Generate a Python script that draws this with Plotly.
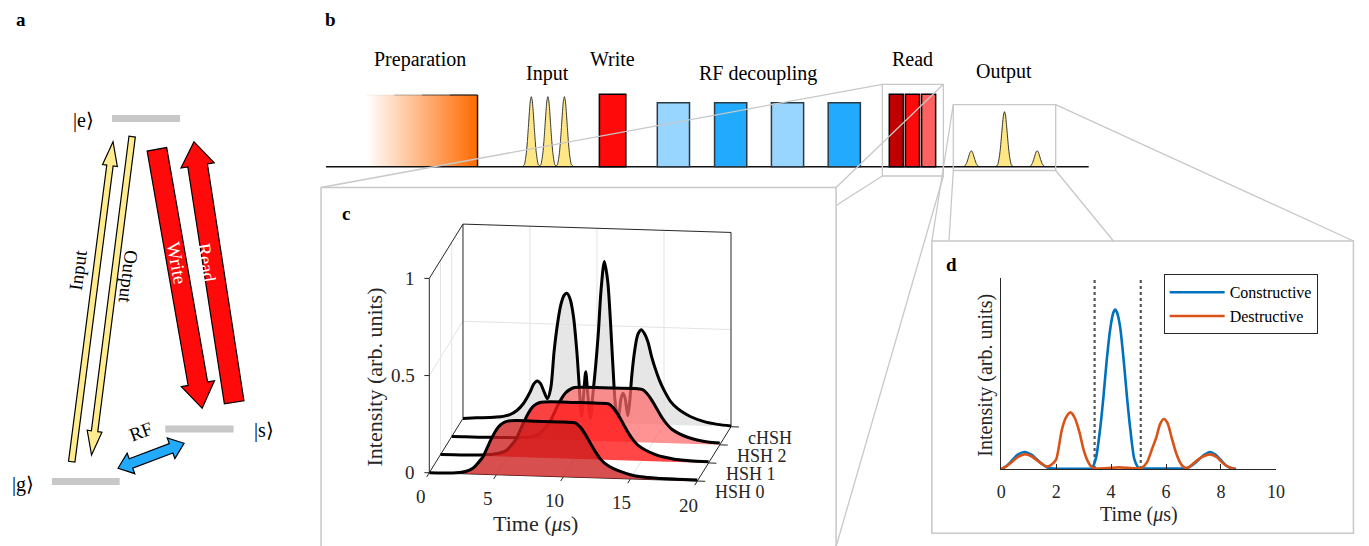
import math
import plotly.graph_objects as go

W, H = 1369, 546
OFF = 8  # the page body adds an 8 px margin; coordinates below are page pixels
FONT = "Liberation Serif, Times New Roman, serif"
INK = "#262626"
FRAME = "#C8C8C8"

# ======================= DATA =======================
# ---- panel c : read-out pulses (time in us, intensity in arb. units)
c_series = ["HSH 0", "HSH 1", "HSH 2", "cHSH"]
t_hsh0 = [0, 1, 2, 2.7, 3.25, 3.6, 4.0, 4.3, 4.6, 4.9, 5.2, 5.5, 5.85, 6.5, 8, 10, 10.9, 11.25,
          11.6, 12.0, 12.4, 12.75, 13.1, 13.7, 14.3, 15, 15.8, 17, 18.5, 20]
z_hsh0 = [0, 0.001, 0.004, 0.012, 0.03, 0.055, 0.09, 0.135, 0.18, 0.22, 0.25, 0.268, 0.278, 0.282,
          0.282, 0.282, 0.28, 0.26, 0.227, 0.18, 0.134, 0.1, 0.076, 0.052, 0.036, 0.022, 0.013,
          0.008, 0.006, 0.005]
t_hsh1 = [0, 1, 2, 3, 3.65, 4.35, 4.9, 5.25, 5.65, 5.95, 6.25, 6.55, 6.85, 7.15, 7.5, 8.2, 10,
          11.7, 12.55, 12.9, 13.25, 13.65, 14.05, 14.4, 14.75, 15.35, 15.95, 16.65, 17.45, 18.6, 20]
z_hsh1 = [0, 0.001, 0.002, 0.004, 0.008, 0.016, 0.031, 0.057, 0.093, 0.139, 0.185, 0.227, 0.258,
          0.276, 0.286, 0.29, 0.29, 0.29, 0.288, 0.268, 0.234, 0.186, 0.138, 0.104, 0.079, 0.054,
          0.037, 0.023, 0.014, 0.008, 0.006]
t_hsh2 = [0, 1, 2, 3, 4, 5.3, 6.0, 6.55, 6.9, 7.3, 7.6, 7.9, 8.2, 8.5, 8.8, 9.15, 10, 12, 14.2,
          14.55, 14.9, 15.3, 15.7, 16.05, 16.4, 17.0, 17.6, 18.3, 19.1, 20]
z_hsh2 = [0, 0.001, 0.001, 0.002, 0.003, 0.006, 0.012, 0.03, 0.054, 0.088, 0.131, 0.175, 0.214,
          0.243, 0.26, 0.272, 0.275, 0.275, 0.273, 0.254, 0.222, 0.176, 0.13, 0.098, 0.074, 0.05,
          0.034, 0.021, 0.013, 0.009]
t_chsh = [0, 1, 2, 2.5, 3, 3.5, 4, 4.5, 5, 5.3, 5.55, 5.8, 6.05, 6.3, 6.55, 6.8, 7.05, 7.3, 7.55,
          7.78, 8.0, 8.25, 8.5, 8.68, 8.85, 9.0, 9.16, 9.32, 9.5, 9.7, 9.9, 10.1, 10.3, 10.55, 10.8,
          11.0, 11.2, 11.4, 11.6, 11.8, 11.95, 12.1, 12.3, 12.45, 12.6, 12.82, 13.05, 13.3, 13.55,
          13.8, 14.05, 14.3, 14.65, 15.0, 15.5, 16, 16.5, 17, 18, 19, 20]
z_chsh = [0, 0.005, 0.009, 0.012, 0.017, 0.027, 0.048, 0.085, 0.145, 0.19, 0.205, 0.19, 0.15,
          0.115, 0.17, 0.36, 0.5, 0.6, 0.65, 0.66, 0.63, 0.54, 0.36, 0.18, 0.03, 0.14, 0.26, 0.14,
          0.02, 0.15, 0.29, 0.46, 0.68, 0.83, 0.73, 0.53, 0.28, 0.08, 0.03, 0.13, 0.155, 0.13, 0.04,
          0.12, 0.25, 0.38, 0.46, 0.485, 0.465, 0.424, 0.355, 0.297, 0.23, 0.178, 0.12, 0.086,
          0.063, 0.045, 0.022, 0.01, 0.004]
c_time_ticks = [0, 5, 10, 15, 20]
c_int_ticks = [0, 0.5, 1]
c_int_ticklabels = ["0", "0.5", "1"]

# ---- panel d : constructive / destructive interference (time in us)
d_t_con = [0, 0.2, 0.4, 0.6, 0.85, 1.1, 1.3, 1.5, 1.7, 2.0, 2.5, 3.0, 3.3, 3.45, 3.6, 3.72, 3.84,
           3.97, 4.08, 4.15, 4.22, 4.33, 4.46, 4.58, 4.7, 4.85, 5.0, 5.2, 5.5, 6.0, 6.5, 6.8, 7.0,
           7.2, 7.4, 7.6, 7.8, 8.0, 8.2, 8.4, 8.55]
d_con = [0, 0.02, 0.055, 0.09, 0.107, 0.09, 0.06, 0.03, 0.008, 0.002, 0.002, 0.002, 0.004, 0.07,
         0.25, 0.45, 0.68, 0.88, 0.98, 1.0, 0.98, 0.89, 0.68, 0.45, 0.25, 0.06, 0.008, 0.003, 0.003,
         0.003, 0.003, 0.008, 0.03, 0.06, 0.09, 0.107, 0.09, 0.055, 0.02, 0.004, 0]
d_t_des = [0, 0.2, 0.4, 0.6, 0.85, 1.1, 1.3, 1.5, 1.68, 1.85, 2.0, 2.2, 2.35, 2.52, 2.68, 2.85,
           3.0, 3.15, 3.3, 3.45, 3.7, 4.0, 4.3, 4.6, 4.9, 5.1, 5.3, 5.5, 5.65, 5.78, 5.91, 6.05,
           6.2, 6.35, 6.5, 6.62, 6.75, 6.9, 7.1, 7.3, 7.6, 7.85, 8.05, 8.25, 8.5]
d_des = [0, 0.018, 0.045, 0.075, 0.092, 0.08, 0.055, 0.03, 0.015, 0.03, 0.06, 0.24, 0.32, 0.355,
         0.32, 0.23, 0.12, 0.05, 0.012, 0.003, 0.004, 0.007, 0.01, 0.007, 0.004, 0.006, 0.04, 0.13,
         0.2, 0.28, 0.314, 0.29, 0.2, 0.11, 0.045, 0.015, 0.006, 0.02, 0.05, 0.075, 0.092, 0.075,
         0.04, 0.015, 0]
d_window = [3.40, 5.08]
d_xticks = [0, 2, 4, 6, 8, 10]

# ---- panel b : sequence (labels and relative pulse heights)
b_labels = ["Preparation", "Input", "Write", "RF decoupling", "Read", "Output"]
pulse_dx = [-9, -7, -6, -5, -4, -3, -2, -1, 0, 1, 2, 3, 4, 5, 6, 7, 9]
pulse_rel = [0, 0.03, 0.1, 0.2, 0.36, 0.56, 0.77, 0.94, 1, 0.94, 0.77, 0.56, 0.36, 0.2, 0.1, 0.03, 0]
input_rel = [1, 1, 1]
output_rel = [0.29, 1.0, 0.29]

# ======================= LAYOUT GEOMETRY (px) =======================
C_O = (429.3, 472.7)
C_ET = (13.53, 0.417)
C_ES = (11.33, -18.1)
C_EZ = (0.0, -194.3)


def proj(t, s, z):
    return (C_O[0] + C_ET[0] * t + C_ES[0] * s + C_EZ[0] * z,
            C_O[1] + C_ET[1] * t + C_ES[1] * s + C_EZ[1] * z)


fig = go.Figure()
shapes = []
ann = []


def seg(p, q, color, width, dash=None):
    fig.add_trace(go.Scatter(x=[p[0], q[0]], y=[p[1], q[1]], mode="lines",
                             line=dict(color=color, width=width, dash=dash),
                             hoverinfo="skip", showlegend=False, xaxis="x", yaxis="y"))


def text(x, y, s, size=20, color="black", angle=0, xanchor="center", yanchor="middle", bold=False):
    if bold:
        s = "<b>" + s + "</b>"
    ann.append(dict(x=x, y=y, xref="x", yref="y", text=s, showarrow=False, textangle=angle,
                    xanchor=xanchor, yanchor=yanchor, borderpad=0,
                    font=dict(family=FONT, size=size, color=color)))


def rect(x0, y0, x1, y1, fill, line="black", lw=1.5, layer="above"):
    shapes.append(dict(type="rect", xref="x", yref="y", x0=x0, y0=y0, x1=x1, y1=y1,
                       fillcolor=fill, line=dict(color=line, width=lw), layer=layer))


def gline(x0, y0, x1, y1, color=FRAME, lw=1.3):
    shapes.append(dict(type="line", xref="x", yref="y", x0=x0, y0=y0, x1=x1, y1=y1,
                       line=dict(color=color, width=lw), layer="above"))


def arrow_path(x0, y0, x1, y1, sw, hw, hl, double=False):
    L = math.hypot(x1 - x0, y1 - y0)
    ux, uy = (x1 - x0) / L, (y1 - y0) / L
    nx, ny = -uy, ux

    def pt(px, py, a, b):
        return (px + ux * a + nx * b, py + uy * a + ny * b)
    pts = []
    if double:
        pts += [pt(x0, y0, 0, 0), pt(x0, y0, hl, hw / 2), pt(x0, y0, hl, sw / 2)]
    else:
        pts += [pt(x0, y0, 0, sw / 2)]
    pts += [pt(x1, y1, -hl, sw / 2), pt(x1, y1, -hl, hw / 2), pt(x1, y1, 0, 0),
            pt(x1, y1, -hl, -hw / 2), pt(x1, y1, -hl, -sw / 2)]
    if double:
        pts += [pt(x0, y0, hl, -sw / 2), pt(x0, y0, hl, -hw / 2)]
    else:
        pts += [pt(x0, y0, 0, -sw / 2)]
    return "M " + " L ".join(f"{x:.2f},{y:.2f}" for x, y in pts) + " Z"


def arrow(x0, y0, x1, y1, sw, hw, hl, fill, double=False):
    shapes.append(dict(type="path", xref="x", yref="y",
                       path=arrow_path(x0, y0, x1, y1, sw, hw, hl, double),
                       fillcolor=fill, line=dict(color="black", width=1.2), layer="above"))


# ======================= PANEL a =======================
rect(109, 115, 177.7, 122, "#C8C8C8", line="rgba(0,0,0,0)", lw=0)
rect(162.7, 425.5, 231.7, 432.5, "#C8C8C8", line="rgba(0,0,0,0)", lw=0)
rect(48.3, 478, 116.7, 485, "#C8C8C8", line="rgba(0,0,0,0)", lw=0)
text(80, 120, "|e⟩", 20)
text(262, 430, "|s⟩", 20)
text(19, 484, "|g⟩", 20)
YEL = "#FFEC8E"
arrow(68.3, 461.7, 110, 141.7, 6.5, 15, 24, YEL)
arrow(129.3, 136.7, 88.3, 455, 6.5, 15, 24, YEL)
arrow(154.3, 149.3, 200, 408.3, 20, 34, 25, "#FF0A0A")
arrow(232.3, 402.3, 191.7, 141.7, 20, 34, 24, "#FF0A0A")
arrow(115, 468.3, 181.7, 443.3, 10, 22, 14, "#22AAFF", double=True)
text(74, 270, "Input", 19, angle=-82.5)
text(126, 277, "Output", 19, angle=97.3)
text(175, 263, "Write", 19, color="white", angle=80)
text(205, 263, "Read", 19, color="white", angle=81.3)
text(138, 431, "RF", 19, angle=-20.5)
text(17, 19, "a", 19, bold=True)

# ======================= PANEL b =======================
BASE = 166.7
fig.add_trace(go.Scatter(x=[366, 478, 478, 366, 366], y=[95, 95, BASE, BASE, 95], mode="lines",
                         line=dict(width=0), fill="toself",
                         fillgradient=dict(type="horizontal",
                                           colorscale=[[0, "rgba(255,255,255,1)"], [1, "#FF6A00"]]),
                         hoverinfo="skip", showlegend=False, xaxis="x", yaxis="y"))
top_steps = [(366, 394, "rgba(60,60,60,0.05)"), (394, 422, "rgba(60,60,60,0.3)"),
             (422, 450, "rgba(40,40,40,0.6)"), (450, 478, "rgba(20,20,20,0.9)")]
for a0, a1, col in top_steps:
    seg((a0, 95), (a1, 95), col, 1.3)
seg((478, 95), (478, BASE), "#1a1a1a", 1.5)


def pulse(cx, height):
    xs = [cx + d for d in pulse_dx]
    ys = [BASE - height * r for r in pulse_rel]
    fig.add_trace(go.Scatter(x=xs, y=ys, mode="lines", fill="toself", fillcolor="#FFE785",
                             line=dict(color="#333333", width=1, shape="spline", smoothing=0.6),
                             hoverinfo="skip", showlegend=False, xaxis="x", yaxis="y"))


for cx, r in zip([532.3, 549, 565.7], input_rel):
    pulse(cx, 70 * r)
for cx, r in zip([976.5, 1010, 1043], output_rel):
    pulse(cx, 55 * r)

seg((325, BASE), (1095, BASE), "#111111", 1.5)
rect(601, 94.3, 627.7, BASE, "#FF0A0A")
for x0, col in zip([659.5, 717.3, 774.7, 832], ["#99D6FF", "#22AAFF", "#99D6FF", "#22AAFF"]):
    rect(x0, 102.7, x0 + 32.5, BASE, col, line="#2a3a45")
for x0, col in zip([893.7, 910, 926.3], ["#C00000", "#FF0A0A", "#FF6060"]):
    rect(x0, 94.3, x0 + 14.2, BASE, col)
for lab, (x, y) in zip(b_labels, [(420, 59), (549, 73), (614, 59), (761.5, 73), (917, 59), (1010, 71)]):
    text(x, y, lab, 20)
text(330, 19, "b", 19, bold=True)

# zoom frames and connectors
rect(886.7, 84.3, 948.3, 176, "rgba(0,0,0,0)", line=FRAME, lw=1.3)
rect(958.3, 104.7, 1061.7, 170.5, "rgba(0,0,0,0)", line=FRAME, lw=1.3)
rect(320, 187.5, 840, 600, "rgba(0,0,0,0)", line=FRAME, lw=1.5)
rect(936.7, 241, 1362.3, 533.3, "rgba(0,0,0,0)", line=FRAME, lw=1.5)
gline(886.7, 84.3, 320, 187.5)
gline(948.3, 84.3, 840, 187.5)
gline(886.7, 176, 840, 205.5)
gline(948.3, 176, 840, 546.5)
gline(958.3, 104.7, 936.7, 241)
gline(958.3, 170.5, 954, 241)
gline(1061.7, 170.5, 1120, 241)
gline(1061.7, 104.7, 1362.3, 241)

# ======================= PANEL c =======================
GRID = "#E3E3E3"
for t in c_time_ticks[1:-1]:
    seg(proj(t, 3, 0), proj(t, 3, 1), GRID, 1)
    seg(proj(t, 0, 0), proj(t, 3, 0), GRID, 1)
for s in [1, 2]:
    seg(proj(0, s, 0), proj(0, s, 1), GRID, 1)
seg(proj(0, 3, 0.5), proj(20, 3, 0.5), GRID, 1)
seg(proj(0, 0, 0.5), proj(0, 3, 0.5), GRID, 1)
edges = [((0, 0, 0), (0, 0, 1)), ((0, 0, 1), (0, 3, 1)), ((0, 3, 0), (0, 3, 1)),
         ((0, 3, 1), (20, 3, 1)), ((20, 3, 1), (20, 3, 0)), ((0, 0, 0), (20, 0, 0)),
         ((20, 0, 0), (20, 3, 0)), ((0, 0, 0), (0, 3, 0))]
for p, q in edges:
    seg(proj(*p), proj(*q), INK, 1)

c_data = [(t_chsh, z_chsh, 3, "rgba(222,222,222,0.75)"),
          (t_hsh2, z_hsh2, 2, "rgba(255,105,105,0.72)"),
          (t_hsh1, z_hsh1, 1, "rgba(255,25,25,0.8)"),
          (t_hsh0, z_hsh0, 0, "rgba(205,30,30,0.78)")]
for ts, zs, s, fillc in c_data:
    base = [proj(t, s, 0) for t in ts]
    curve = [proj(t, s, z) for t, z in zip(ts, zs)]
    fig.add_trace(go.Scatter(x=[p[0] for p in base], y=[p[1] for p in base], mode="lines",
                             line=dict(width=0, color="rgba(0,0,0,0)"), hoverinfo="skip",
                             showlegend=False, xaxis="x", yaxis="y"))
    fig.add_trace(go.Scatter(x=[p[0] for p in curve], y=[p[1] for p in curve], mode="lines",
                             fill="tonexty", fillcolor=fillc,
                             line=dict(color="black", width=3, shape="spline", smoothing=0.8),
                             hoverinfo="skip", showlegend=False, xaxis="x", yaxis="y"))

for z, lab in zip(c_int_ticks, c_int_ticklabels):
    p = proj(0, 0, z)
    seg(p, (p[0] - 5, p[1]), INK, 1)
    text(p[0] - 13, p[1], lab, 19, color=INK, xanchor="right")
for t in c_time_ticks:
    p = proj(t, 0, 0)
    seg(p, (p[0] - 2.6, p[1] + 4.2), INK, 1)
    text(p[0] - 8.5, p[1] + 24, str(t), 19, color=INK)
for s, lab in enumerate(c_series):
    p = proj(20, s, 0)
    seg(p, (p[0] + 8, p[1] + 0.25), INK, 1)
    text(p[0] + 16.5, p[1] + 11, lab, 18, color=INK, xanchor="left")
text(373, 377, "Intensity (arb. units)", 22, color=INK, angle=-90)
text(537, 523, "Time (<i>μ</i>s)", 22, color=INK)
text(345, 213, "c", 19, bold=True)

# ======================= PANEL d =======================
for xw in d_window:
    fig.add_trace(go.Scatter(x=[xw, xw], y=[0, 1.2], mode="lines",
                             line=dict(color="#555555", width=2.2, dash="dot"),
                             hoverinfo="skip", showlegend=False, xaxis="x2", yaxis="y2"))
fig.add_trace(go.Scatter(x=d_t_con, y=d_con, mode="lines", name="Constructive",
                         line=dict(color="#0072BD", width=2.6, shape="spline", smoothing=0.7),
                         xaxis="x2", yaxis="y2"))
fig.add_trace(go.Scatter(x=d_t_des, y=d_des, mode="lines", name="Destructive",
                         line=dict(color="#D95319", width=2.6, shape="spline", smoothing=0.7),
                         xaxis="x2", yaxis="y2"))
text(990, 375, "Intensity (arb. units)", 20, color=INK, angle=-90)
text(1146, 514, "Time (<i>μ</i>s)", 20, color=INK)
text(957, 264, "d", 19, bold=True)

fig.update_layout(
    width=W, height=H, margin=dict(l=0, r=0, t=0, b=0),
    paper_bgcolor="white", plot_bgcolor="rgba(0,0,0,0)",
    font=dict(family=FONT, color=INK),
    xaxis=dict(domain=[0, 1], range=[OFF, W + OFF], visible=False, fixedrange=True),
    yaxis=dict(domain=[0, 1], range=[H + OFF, OFF], visible=False, fixedrange=True),
    xaxis2=dict(domain=[(1006.7 - OFF) / W, (1284 - OFF) / W], range=[0, 10], anchor="y2",
                tickvals=d_xticks, ticks="inside", ticklen=5, tickcolor=INK,
                showline=True, linecolor=INK, linewidth=1, showgrid=False, zeroline=False,
                tickfont=dict(family=FONT, size=18, color=INK), ticklabelstandoff=6),
    yaxis2=dict(domain=[1 - (469 - OFF) / H, 1 - (277.7 - OFF) / H], range=[0, 1.2], anchor="x2",
                showticklabels=False, ticks="", showline=True, linecolor=INK, linewidth=1,
                showgrid=False, zeroline=False),
    showlegend=True,
    legend=dict(x=(1170.7 - OFF) / W, y=1 - (274.3 - OFF) / H, xanchor="left", yanchor="top",
                bgcolor="white", bordercolor=INK, borderwidth=1, traceorder="normal",
                font=dict(family=FONT, size=16, color="black"), itemwidth=55,
                tracegroupgap=0),
    shapes=shapes, annotations=ann,
)

fig.write_html("out.html")
